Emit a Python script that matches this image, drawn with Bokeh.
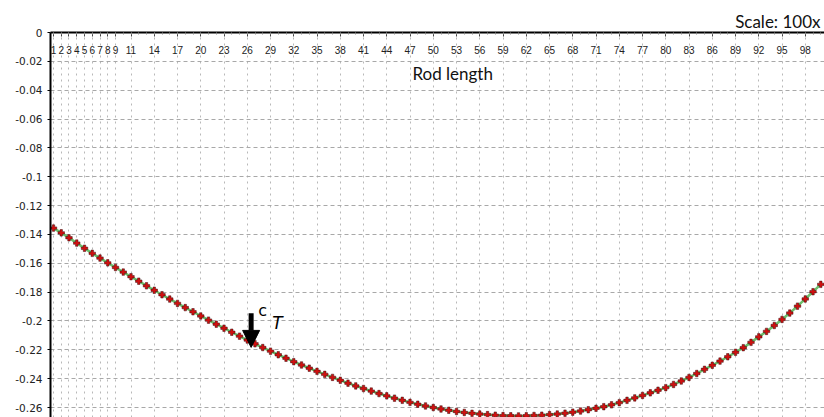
from bokeh.plotting import figure
from bokeh.models import Range1d, FixedTicker, Label, Arrow, NormalHead, Title
from bokeh.embed import file_html
from bokeh.resources import INLINE

# ---- data ----
node = list(range(1, 101))
deflection = [
    -0.1356, -0.1389, -0.1423, -0.1460, -0.1496, -0.1531, -0.1564, -0.1597, -0.1629, -0.1661,
    -0.1693, -0.1724, -0.1756, -0.1787, -0.1818, -0.1848, -0.1878, -0.1907, -0.1936, -0.1965,
    -0.1994, -0.2022, -0.2050, -0.2078, -0.2105, -0.2132, -0.2158, -0.2184, -0.2209, -0.2234,
    -0.2258, -0.2282, -0.2305, -0.2327, -0.2349, -0.2370, -0.2391, -0.2411, -0.2431, -0.2450,
    -0.2468, -0.2486, -0.2503, -0.2519, -0.2535, -0.2550, -0.2564, -0.2577, -0.2589, -0.2600,
    -0.2610, -0.2619, -0.2627, -0.2634, -0.2640, -0.2645, -0.2649, -0.2653, -0.2656, -0.2657,
    -0.2658, -0.2657, -0.2655, -0.2653, -0.2649, -0.2645, -0.2639, -0.2632, -0.2624, -0.2615,
    -0.2605, -0.2594, -0.2581, -0.2566, -0.2550, -0.2533, -0.2516, -0.2498, -0.2480, -0.2462,
    -0.2440, -0.2416, -0.2391, -0.2364, -0.2335, -0.2307, -0.2278, -0.2248, -0.2217, -0.2185,
    -0.2148, -0.2110, -0.2072, -0.2031, -0.1989, -0.1945, -0.1897, -0.1847, -0.1797, -0.1746,
]
x_ticks = [1, 2, 3, 4, 5, 6, 7, 8, 9, 11, 14, 17, 20, 23, 26, 29, 32, 35, 38, 41, 44, 47,
           50, 53, 56, 59, 62, 65, 68, 71, 74, 77, 80, 83, 86, 89, 92, 95, 98]
x_tick_labels = [str(t) for t in x_ticks]
y_ticks = [0, -0.02, -0.04, -0.06, -0.08, -0.1, -0.12, -0.14, -0.16, -0.18, -0.2, -0.22, -0.24, -0.26]
y_tick_labels = ["0", "-0.02", "-0.04", "-0.06", "-0.08", "-0.1", "-0.12", "-0.14", "-0.16",
                 "-0.18", "-0.2", "-0.22", "-0.24", "-0.26"]
axis_title = "Rod length"
scale_text = "Scale: 100x"
load_node = 26.5
load_top = -0.1946
load_tip = -0.2183

p = figure(width=824, height=417, output_backend="svg", toolbar_location=None,
           x_range=Range1d(0.613, 100.48), y_range=Range1d(-0.2669, 0.0),
           x_axis_location="above",
           min_border_left=50, min_border_right=0, min_border_top=32, min_border_bottom=0)
p.outline_line_color = None
p.background_fill_color = "white"
p.border_fill_color = "white"

p.add_layout(Title(text=scale_text, align="right", text_font="Lato", text_font_size="17px",
                   text_font_style="normal", text_color="#111111", standoff=2, offset=4), "above")

xa = p.xaxis[0]
xa.ticker = FixedTicker(ticks=x_ticks, minor_ticks=node)
xa.major_label_overrides = {t: s for t, s in zip(x_ticks, x_tick_labels)}
xa.axis_line_width = 2
xa.axis_line_color = "black"
xa.major_tick_in = 4
xa.major_tick_out = 0
xa.minor_tick_in = 2
xa.minor_tick_out = 0
xa.major_tick_line_color = "#444444"
xa.minor_tick_line_color = "#888888"
xa.major_label_standoff = -21
xa.major_label_text_font = "Liberation Sans"
xa.major_label_text_font_size = "10px"
xa.major_label_text_color = "#222222"

ya = p.yaxis[0]
ya.ticker = FixedTicker(ticks=y_ticks)
ya.major_label_overrides = {t: s for t, s in zip(y_ticks, y_tick_labels)}
ya.axis_line_width = 2
ya.axis_line_color = "black"
ya.major_tick_in = 0
ya.major_tick_out = 3
ya.minor_tick_line_color = None
ya.major_label_standoff = 5
ya.major_label_text_font = "DejaVu Sans"
ya.major_label_text_font_size = "10.5px"
ya.major_label_text_color = "#222222"

p.xgrid.ticker = FixedTicker(ticks=x_ticks)
p.xgrid.grid_line_color = "#b8b8b8"
p.xgrid.grid_line_dash = "2 4"
p.ygrid.ticker = FixedTicker(ticks=y_ticks)
p.ygrid.grid_line_color = "#a8a8a8"
p.ygrid.grid_line_dash = "4 3"

p.line(node, deflection, line_color="#6cbf6c", line_width=2.5)
p.scatter(node, deflection, marker="plus", size=6.5, fill_color="#d01010",
          line_color="#3a1010", line_width=0.5)

p.add_layout(Arrow(end=NormalHead(size=17, fill_color="black", line_color="black"),
                   x_start=load_node, y_start=load_top, x_end=load_node, y_end=load_tip,
                   line_width=5, line_color="black"))
p.add_layout(Label(x=28.0, y=-0.1926, text="c", text_align="center", text_baseline="middle",
                   text_font="DejaVu Sans", text_font_size="16px", text_color="black"))
p.add_layout(Label(x=29.9, y=-0.2016, text="T", text_align="center", text_baseline="middle",
                   text_font="DejaVu Sans", text_font_size="17px", text_font_style="italic",
                   text_color="black"))

p.add_layout(Label(x=52.5, y=-0.0285, text=axis_title, text_align="center", text_baseline="middle",
                   text_font="Lato", text_font_size="17px", text_color="#111111"))

open("out.html", "w").write(file_html(p, INLINE))
